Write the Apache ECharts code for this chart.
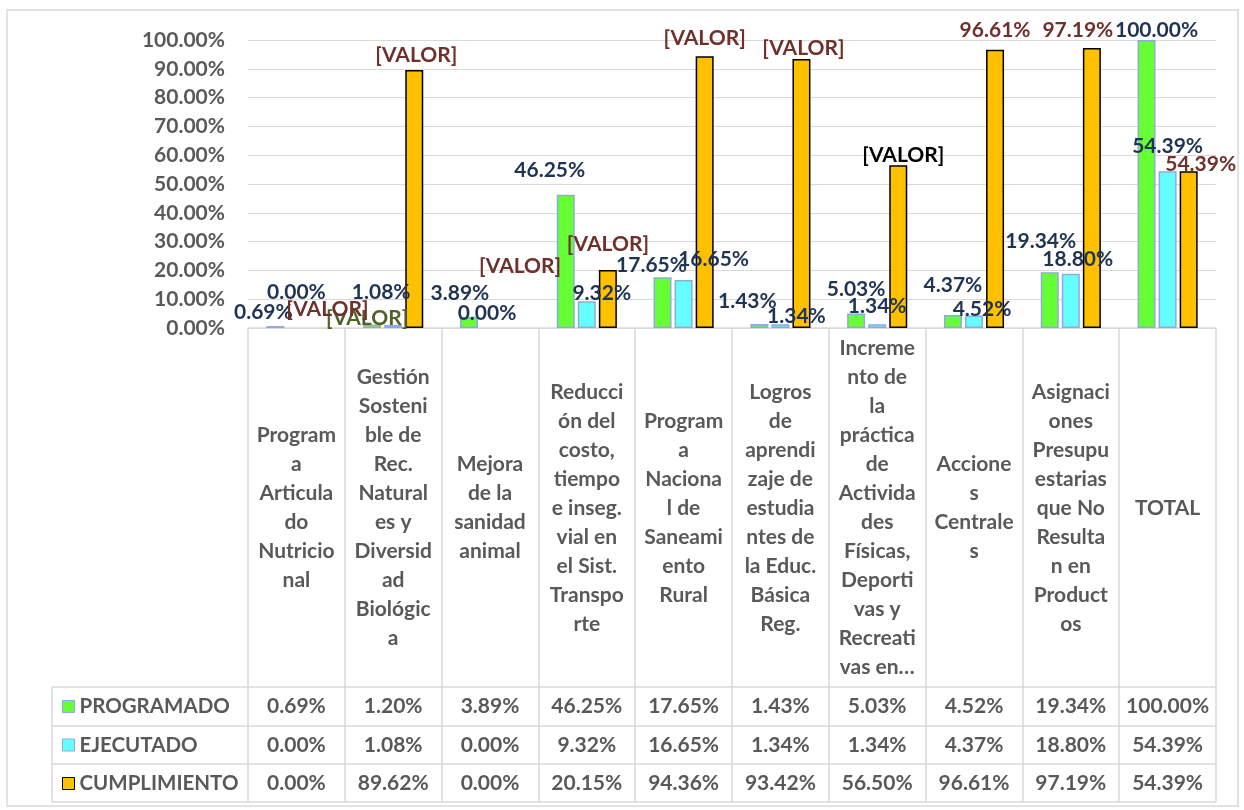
<!DOCTYPE html>
<html>
<head>
<meta charset="utf-8">
<script src="https://cdn.jsdelivr.net/npm/echarts@6/dist/echarts.min.js"></script>
<style>
html,body{margin:0;padding:0;background:#ffffff;}
#chart{width:1244px;height:810px;}
</style>
</head>
<body>
<div id="chart"></div>
<script>
// ---------------- DATA ----------------
const categories = [
  "Program\na\nArticula\ndo\nNutricio\nnal",
  "Gestión\nSosteni\nble de\nRec.\nNatural\nes y\nDiversid\nad\nBiológic\na",
  "Mejora\nde la\nsanidad\nanimal",
  "Reducci\nón del\ncosto,\ntiempo\ne inseg.\nvial en\nel Sist.\nTranspo\nrte",
  "Program\na\nNaciona\nl de\nSaneami\nento\nRural",
  "Logros\nde\naprendi\nzaje de\nestudia\nntes de\nla Educ.\nBásica\nReg.",
  "Increme\nnto de\nla\npráctica\nde\nActivida\ndes\nFísicas,\nDeporti\nvas y\nRecreati\nvas en…",
  "Accione\ns\nCentrale\ns",
  "Asignaci\nones\nPresupu\nestarias\nque No\nResulta\nn en\nProduct\nos",
  "TOTAL"
];
const seriesNames = ["PROGRAMADO", "EJECUTADO", "CUMPLIMIENTO"];
const programado   = [0.69, 1.20, 3.89, 46.25, 17.65, 1.43, 5.03, 4.52, 19.34, 100.00];
const ejecutado    = [0.00, 1.08, 0.00, 9.32, 16.65, 1.34, 1.34, 4.37, 18.80, 54.39];
const cumplimiento = [0.00, 89.62, 0.00, 20.15, 94.36, 93.42, 56.50, 96.61, 97.19, 54.39];
const yMin = 0, yMax = 100, yInterval = 10;

// data-label texts as printed on the chart
const programadoLabels   = ["0.69%", "[VALOR]", "3.89%", "46.25%", "17.65%", "1.43%", "5.03%", "4.37%", "19.34%", "100.00%"];
const ejecutadoLabels    = ["0.00%", "1.08%", "0.00%", "9.32%", "16.65%", "1.34%", "1.34%", "4.52%", "18.80%", "54.39%"];
const cumplimientoLabels = ["[VALOR]", "[VALOR]", "[VALOR]", "[VALOR]", "[VALOR]", "[VALOR]", "[VALOR]", "96.61%", "97.19%", "54.39%"];

// ---------------- LAYOUT / STYLE ----------------
const FONT = "Lato, 'Open Sans', sans-serif";
const GRAY = "#595959";
const LINE = "#D9D9D9";
const NAVY = "#1F3354";
const BROWN = "#70302C";
const OLIVE = "#4F6228";

const labelOffsets = [
  [[-12,-4],[-5,3.5],[-9,-13.8],[-16,-14.8],[-11,-2.2],[-12,-12.9],[0,-14.5],[0,-20],[-9,-21.3],[10,0]],
  [[0,-26],[-12,-22.9],[-3,-5],[15,1.8],[30,-11],[16,1.9],[0,-8.1],[8,3.6],[7,-4.9],[0,-15.4]],
  [[10,-9],[2,-4.9],[9,-52],[0,-16],[0,-8.2],[2,-1],[5,-0.3],[0,-9.8],[-14,-8.1],[12,2.6]]
];
const labelColors = [
  [NAVY, OLIVE, NAVY, NAVY, NAVY, NAVY, NAVY, NAVY, NAVY, NAVY],
  [NAVY, NAVY, NAVY, NAVY, NAVY, NAVY, NAVY, NAVY, NAVY, NAVY],
  [BROWN, BROWN, BROWN, BROWN, BROWN, BROWN, "#000000", BROWN, BROWN, BROWN]
];
const barStyles = [
  {color: "#66FF33", borderColor: "#8FAADC", borderWidth: 1.5},
  {color: "#66FFFF", borderColor: "#8FAADC", borderWidth: 1.5},
  {color: "#FFC000", borderColor: "#000000", borderWidth: 1.5}
];

const values = [programado, ejecutado, cumplimiento];
const labelTexts = [programadoLabels, ejecutadoLabels, cumplimientoLabels];

function fmt(v){ return v.toFixed(2) + "%"; }

const series = seriesNames.map(function(name, s){
  return {
    name: name,
    type: "bar",
    barWidth: 18,
    barGap: "17%",
    itemStyle: barStyles[s],
    label: {
      show: true, position: "top", distance: 0,
      fontFamily: FONT, fontWeight: "bold", fontSize: 21, lineHeight: 20,
      color: NAVY
    },
    data: values[s].map(function(v, i){
      const item = {
        value: v,
        label: {
          formatter: labelTexts[s][i],
          offset: labelOffsets[s][i],
          color: labelColors[s][i]
        }
      };
      if (v === 0) item.itemStyle = {borderWidth: 0};
      return item;
    })
  };
});

const chart = echarts.init(document.getElementById("chart"), null, {renderer: "canvas"});

const option = {
  backgroundColor: "#ffffff",
  animation: false,
  textStyle: {fontFamily: FONT},
  grid: {left: 248, right: 28, top: 40, bottom: 482, containLabel: false, outerBoundsMode: "none"},
  legend: {
    data: seriesNames,
    orient: "vertical",
    left: 62, top: 694.5,
    padding: 0,
    itemWidth: 12, itemHeight: 12, itemGap: 14.5,
    icon: "rect",
    selectedMode: false,
    itemStyle: {borderWidth: 1},
    textStyle: {fontFamily: FONT, fontWeight: "bold", fontSize: 20.5, color: GRAY, lineHeight: 24}
  },
  xAxis: {
    type: "category",
    data: categories,
    axisLine: {show: true, lineStyle: {color: LINE, width: 1.5}},
    axisTick: {show: true, length: 474, lineStyle: {color: LINE, width: 1.5}},
    axisLabel: {
      interval: 0, margin: 180, verticalAlign: "middle", align: "center",
      fontFamily: FONT, fontWeight: "bold", fontSize: 21, lineHeight: 29, color: GRAY,
      hideOverlap: false
    },
    splitLine: {show: false}
  },
  yAxis: {
    type: "value",
    min: yMin, max: yMax, interval: yInterval,
    axisLine: {show: false},
    axisTick: {show: false},
    axisLabel: {
      formatter: function(v){ return fmt(v); },
      margin: 23,
      fontFamily: FONT, fontWeight: "bold", fontSize: 21, color: GRAY
    },
    splitLine: {lineStyle: {color: LINE, width: 1.2}}
  },
  series: series
};

chart.setOption(option);

// ---------------- DATA TABLE (built from the axis scale) ----------------
const centers = categories.map(function(c, i){ return chart.convertToPixel({xAxisIndex: 0}, i); });
const catW = centers[1] - centers[0];
const tableRight = centers[centers.length - 1] + catW / 2;
const tableLeft = 52;
const rowLines = [687, 726, 764, 802];
const graphics = [];

// outer chart border
graphics.push({type: "rect", shape: {x: 7, y: 10, width: 1231, height: 796},
  style: {fill: null, stroke: LINE, lineWidth: 1.5}, silent: true, z: 0});

rowLines.forEach(function(y){
  graphics.push({type: "line", shape: {x1: tableLeft, y1: y, x2: tableRight, y2: y},
    style: {stroke: LINE, lineWidth: 1.5}, silent: true});
});
graphics.push({type: "line", shape: {x1: tableLeft, y1: rowLines[0], x2: tableLeft, y2: rowLines[3]},
  style: {stroke: LINE, lineWidth: 1.5}, silent: true});

values.forEach(function(arr, r){
  const yc = (rowLines[r] + rowLines[r + 1]) / 2;
  arr.forEach(function(v, i){
    graphics.push({
      type: "text", x: centers[i], y: yc, silent: true,
      style: {text: fmt(v), fill: GRAY, font: "bold 21px " + FONT, textAlign: "center", textVerticalAlign: "middle"}
    });
  });
});

chart.setOption({graphic: graphics});
</script>
</body>
</html>
